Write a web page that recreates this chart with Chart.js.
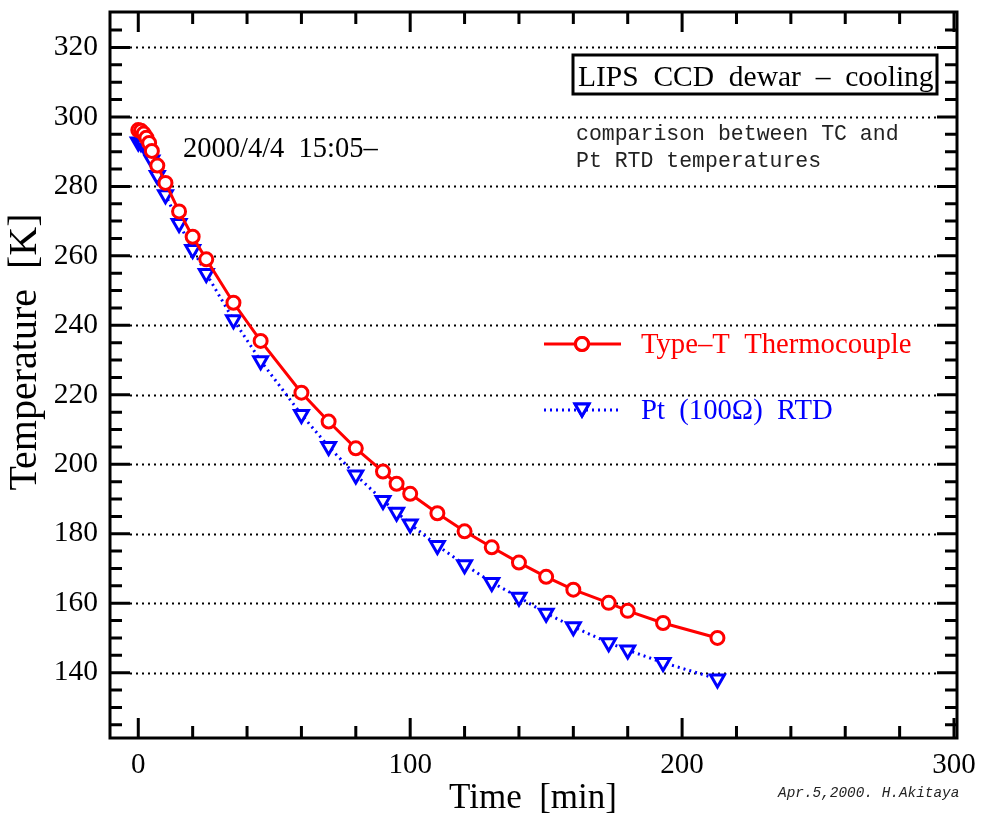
<!DOCTYPE html>
<html>
<head>
<meta charset="utf-8">
<script src="https://cdn.jsdelivr.net/npm/chart.js@4.4.1/dist/chart.umd.min.js"></script>
<style>
  html, body { margin: 0; padding: 0; background: #fff; }
  #wrap { width: 983px; height: 816px; }
</style>
</head>
<body>
<div id="wrap"><canvas id="grafico" width="983" height="816"></canvas></div>
<script>
// Tiempos de lectura (min) desde 2000/4/4 15:05
const tiempos = [0, 1, 2, 3, 4, 5, 7, 10, 15, 20, 25, 35, 45, 60, 70, 80, 90, 95, 100,
                 110, 120, 130, 140, 150, 160, 173, 180, 193, 213];

// Termopar tipo T (K)
const tempTC = [296.2, 296.0, 295.2, 294.0, 292.5, 290.2, 286.0, 281.0, 272.8, 265.5, 259.0,
                246.5, 235.5, 220.6, 212.3, 204.6, 197.9, 194.4, 191.5, 185.9, 180.7, 176.1,
                171.7, 167.6, 163.9, 160.1, 157.8, 154.3, 150.0];

// Pt (100 ohm) RTD (K)
const tempRTD = [292.8, 292.6, 292.0, 291.0, 289.5, 287.6, 283.1, 277.6, 269.3, 261.8, 254.9,
                 241.6, 229.8, 214.3, 205.1, 196.9, 189.6, 186.2, 182.8, 176.6, 171.1, 166.0,
                 161.7, 157.1, 153.2, 148.6, 146.5, 142.9, 138.2];

const ticksX = [0, 100, 200, 300];
const ticksY = [140, 160, 180, 200, 220, 240, 260, 280, 300, 320];

const nombreTC = 'Type\u2013T  Thermocouple';
const nombreRTD = 'Pt  (100\u03A9)  RTD';

const serif = '"Liberation Serif", "Times New Roman", serif';
const mono = '"Liberation Mono", "Courier New", monospace';

// Marco, marcas menores, rejilla punteada, textos y leyenda
const marcoPlugin = {
    id: 'marco',
    beforeDatasetsDraw(chart) {
        const { ctx, chartArea: a, scales: { y } } = chart;
        ctx.save();
        ctx.strokeStyle = '#000';
        ctx.lineWidth = 2;
        ctx.setLineDash([2, 4]);
        ticksY.forEach(v => {
            const py = Math.round(y.getPixelForValue(v)) + 0.5;
            ctx.beginPath();
            ctx.moveTo(a.left + 20, py);
            ctx.lineTo(a.right - 20, py);
            ctx.stroke();
        });
        ctx.restore();
    },
    afterDraw(chart) {
        const { ctx, chartArea: a, scales: { x, y } } = chart;
        ctx.save();
        ctx.strokeStyle = '#000';
        ctx.lineWidth = 3;
        ctx.setLineDash([]);

        // marcas eje Y (cada 5 K, mayores cada 20 K)
        for (let v = 125; v <= 330; v += 5) {
            const py = y.getPixelForValue(v);
            if (py < a.top + 2 || py > a.bottom - 2) continue;
            const largo = v % 20 === 0 ? 20 : 12;
            ctx.beginPath();
            ctx.moveTo(a.left, py); ctx.lineTo(a.left + largo, py);
            ctx.moveTo(a.right, py); ctx.lineTo(a.right - largo, py);
            ctx.stroke();
        }
        // marcas eje X (cada 20 min, mayores cada 100)
        for (let v = 0; v <= 300; v += 20) {
            const px = x.getPixelForValue(v);
            if (px > a.right - 2) continue;
            const largo = v % 100 === 0 ? 20 : 12;
            ctx.beginPath();
            ctx.moveTo(px, a.bottom); ctx.lineTo(px, a.bottom - largo);
            ctx.moveTo(px, a.top); ctx.lineTo(px, a.top + largo);
            ctx.stroke();
        }
        ctx.strokeRect(a.left, a.top, a.right - a.left, a.bottom - a.top);

        // titulos de ejes
        ctx.fillStyle = '#000';
        ctx.font = '35px ' + serif;
        ctx.textAlign = 'center';
        ctx.textBaseline = 'alphabetic';
        ctx.fillText('Time  [min]', 533, 808);
        ctx.save();
        ctx.translate(36, 352);
        ctx.rotate(-Math.PI / 2);
        ctx.font = '40px ' + serif;
        ctx.fillText('Temperature  [K]', 0, 0);
        ctx.restore();

        // textos
        ctx.textAlign = 'left';
        ctx.font = '28.5px ' + serif;
        ctx.fillText('2000/4/4  15:05\u2013', 183, 157);

        ctx.font = '29.5px ' + serif;
        ctx.fillText('LIPS  CCD  dewar  \u2013  cooling', 578, 86);
        ctx.lineWidth = 3;
        ctx.strokeRect(573, 55, 364, 39);

        ctx.fillStyle = '#222';
        ctx.font = '21.5px ' + mono;
        ctx.fillText('comparison between TC and', 576, 140);
        ctx.fillText('Pt RTD temperatures', 576, 167);

        ctx.font = 'italic 14.4px ' + mono;
        ctx.fillText('Apr.5,2000. H.Akitaya', 778, 797);

        // leyenda
        const filas = [{ ds: chart.data.datasets[0], yl: 344 }, { ds: chart.data.datasets[1], yl: 410 }];
        filas.forEach(f => {
            const ds = f.ds;
            ctx.strokeStyle = ds.borderColor;
            ctx.lineWidth = ds.borderWidth;
            ctx.setLineDash(ds.borderDash || []);
            ctx.beginPath();
            ctx.moveTo(544, f.yl); ctx.lineTo(621, f.yl);
            ctx.stroke();
            ctx.setLineDash([]);
            Chart.helpers.drawPoint(ctx, {
                pointStyle: ds.pointStyle,
                rotation: ds.pointRotation || 0,
                radius: ds.pointRadius,
                borderWidth: ds.pointBorderWidth
            }, 582, f.yl - (ds.pointRotation ? 2 : 0));
            ctx.fillStyle = ds.pointBackgroundColor;
            ctx.lineWidth = ds.pointBorderWidth;
            ctx.strokeStyle = ds.borderColor;
            ctx.fill();
            ctx.stroke();
            ctx.fillStyle = ds.borderColor;
            ctx.font = '28.7px ' + serif;
            ctx.fillText(ds.label, 641, f.yl + 9);
        });
        ctx.restore();
    }
};

const ctx = document.getElementById('grafico').getContext('2d');

new Chart(ctx, {
    type: 'line',
    data: {
        datasets: [
            {
                label: nombreTC,
                data: tiempos.map((t, i) => ({ x: t, y: tempTC[i] })),
                borderColor: '#ff0000',
                borderWidth: 3,
                pointStyle: 'circle',
                pointRadius: 6.5,
                pointBorderWidth: 3,
                pointBackgroundColor: '#ffffff',
                pointBorderColor: '#ff0000',
                tension: 0
            },
            {
                label: nombreRTD,
                data: tiempos.map((t, i) => ({ x: t, y: tempRTD[i] })),
                borderColor: '#0000ff',
                borderWidth: 3,
                borderDash: [2, 4],
                pointStyle: 'triangle',
                pointRotation: 180,
                pointRadius: 8,
                pointBorderWidth: 3,
                pointBackgroundColor: '#ffffff',
                pointBorderColor: '#0000ff',
                tension: 0
            }
        ]
    },
    options: {
        responsive: false,
        animation: false,
        layout: { padding: { left: 0, top: 12, right: 26, bottom: 0 } },
        plugins: {
            legend: { display: false },
            tooltip: { enabled: false }
        },
        scales: {
            x: {
                type: 'linear',
                min: -10.4,
                max: 301.1,
                afterBuildTicks: s => { s.ticks = ticksX.map(v => ({ value: v })); },
                afterFit: s => { s.height = 78; s.paddingLeft = 0; s.paddingRight = 0; },
                grid: { display: false, drawTicks: false },
                border: { display: false },
                ticks: {
                    color: '#000',
                    font: { family: serif, size: 29 },
                    padding: 10,
                    maxRotation: 0
                }
            },
            y: {
                type: 'linear',
                min: 121.2,
                max: 330.2,
                afterBuildTicks: s => { s.ticks = ticksY.map(v => ({ value: v })); },
                afterFit: s => { s.width = 110; s.paddingTop = 0; s.paddingBottom = 0; },
                grid: { display: false, drawTicks: false },
                border: { display: false },
                ticks: {
                    color: '#000',
                    font: { family: serif, size: 29.5 },
                    padding: 12
                }
            }
        }
    },
    plugins: [marcoPlugin]
});
</script>
</body>
</html>
